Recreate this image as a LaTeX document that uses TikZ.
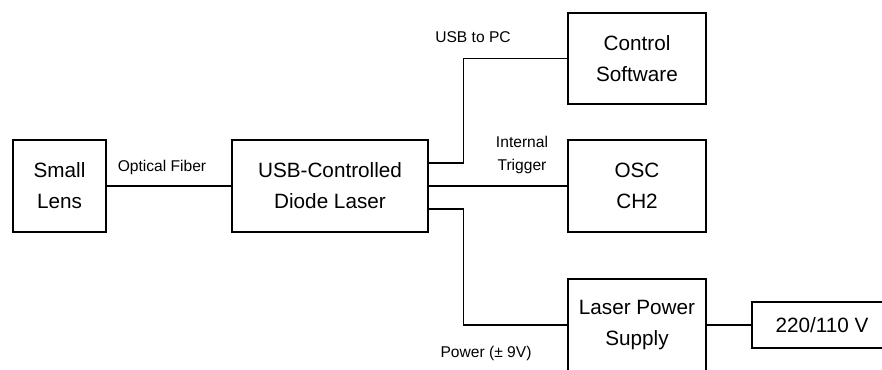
\documentclass[tikz,border=0pt]{standalone}
\usepackage{fontspec}
\setmainfont{Liberation Sans}
\begin{document}
\begin{tikzpicture}[x=1pt,y=-1pt,
  box/.style={draw=black, line width=1.1pt, inner sep=0pt, align=center,
    font=\fontsize{20.7}{31}\selectfont},
  lbl/.style={inner sep=0pt, anchor=base, align=center,
    font=\fontsize{15.6}{23}\selectfont},
  wire/.style={draw=black, line width=1.1pt}]
\useasboundingbox (0,0) rectangle (882,369);
\fill[white] (0,0) rectangle (882,369);
\node[box, minimum width=93pt, minimum height=92pt] (lens) at (59.5,186) {Small\\Lens};
\node[box, minimum width=196pt, minimum height=92pt] (laser) at (330,186) {USB-Controlled\\Diode Laser};
\node[box, minimum width=138pt, minimum height=91pt] (ctrl) at (637,58.5) {Control\\Software};
\node[box, minimum width=138pt, minimum height=92pt] (osc) at (637,186) {OSC\\CH2};
\node[box, minimum width=138pt, minimum height=92pt] (psu) at (637,325) {Laser Power\\Supply};
\node[box, minimum width=140pt, minimum height=46pt] (mains) at (822,325) {220/110 V};
\draw[wire] (lens) -- (laser);
\draw[wire] ([yshift=23pt]laser.east) -- ++(35,0) |- (ctrl.west);
\draw[wire] (laser) -- (osc);
\draw[wire] ([yshift=-23pt]laser.east) -- ++(35,0) |- (psu.west);
\draw[wire] (psu) -- (mains);
\node[lbl] (lof) at (162,171) {Optical Fiber};
\node[lbl] (lusb) at (473,42) {USB to PC};
\node[lbl] (ltrig) at (522,147) {Internal};
\node[lbl] (ltrig2) at (522,170) {Trigger};
\node[lbl] (lpow) at (486,357) {Power (± 9V)};
\end{tikzpicture}
\end{document}
